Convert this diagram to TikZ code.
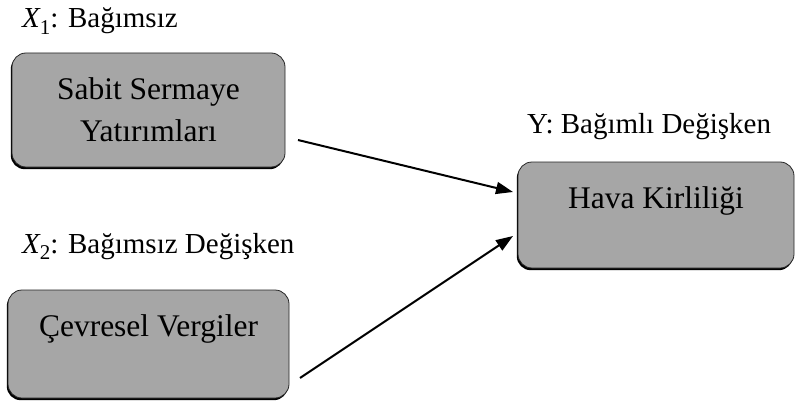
\documentclass[tikz,border=0pt]{standalone}
\usepackage{fontspec}
\setmainfont{Liberation Serif}
\usetikzlibrary{arrows.meta,shadows}
\definecolor{boxgray}{RGB}{166,166,166}
\newcommand{\xvar}[1]{{\itshape X}\raisebox{-0.22em}{\fontsize{21}{21}\selectfont #1}}
\tikzset{
  varbox/.style={draw=black!85, line width=0.8pt, fill=boxgray, rounded corners=14pt,
    inner sep=0pt, outer sep=0pt, align=center,
    font=\fontsize{31.5}{42}\selectfont,
    drop shadow={shadow xshift=-1.2pt, shadow yshift=-2.2pt, opacity=1, fill=black}},
  lbl/.style={inner sep=0pt, anchor=base west, font=\fontsize{29}{32}\selectfont},
  conn/.style={line width=2pt, -{Triangle[length=17pt,width=12pt]}}
}
\begin{document}
\begin{tikzpicture}[x=1pt,y=1pt]
\useasboundingbox (0,0) rectangle (795,400);
\node[varbox, minimum width=273pt, minimum height=114pt] (b1) at (148.5,290) {Sabit Sermaye\\Yatırımları};
\node[varbox, minimum width=281pt, text height=46pt, text depth=62pt] (b2) at (148.5,56) {Çevresel Vergiler};
\node[varbox, minimum width=276pt, text height=46pt, text depth=60pt] (b3) at (656,185) {Hava Kirliliği};
\node[lbl] (l1) at (22,372) {\xvar{1}: Bağımsız};
\node[lbl] (l2) at (22,147) {\xvar{2}: Bağımsız Değişken};
\node[lbl] (l3) at (527,267) {Y: Bağımlı Değişken};
\coordinate (s1) at (298,260);
\coordinate (e1) at (513,208);
\coordinate (s2) at (300,22);
\coordinate (e2) at (513,164);
\draw[conn] (s1) -- (e1);
\draw[conn] (s2) -- (e2);
\end{tikzpicture}
\end{document}
